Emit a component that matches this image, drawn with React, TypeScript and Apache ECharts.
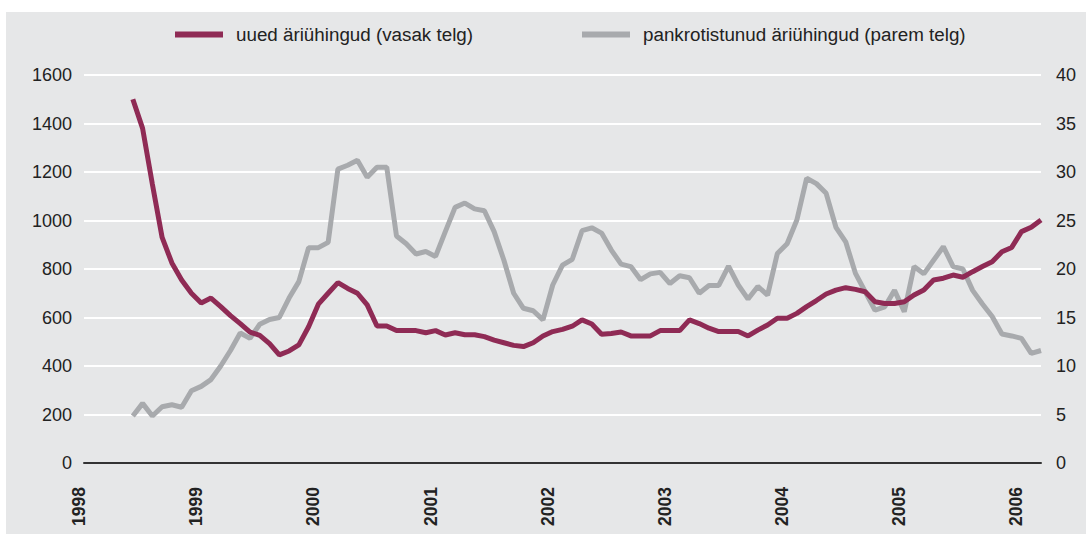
import React, { useEffect, useRef } from "react";
import * as echarts from "echarts";

// x categories: monthly, Jan 1998 .. Mar 2006
const yearLabels = ["1998", "1999", "2000", "2001", "2002", "2003", "2004", "2005", "2006"];
const lastYearMonths = 3;
const monthCategories: string[] = [];
yearLabels.forEach((y, i) => {
  const n = i === yearLabels.length - 1 ? lastYearMonths : 12;
  for (let m = 1; m <= n; m++) monthCategories.push(`${y}-${m < 10 ? "0" + m : m}`);
});

const seriesStart = "1998-06";

const seriesNames = ["uued äriühingud (vasak telg)", "pankrotistunud äriühingud (parem telg)"];

// new companies (left axis), from Jun 1998
const newCompanies = [
  1500, 1380, 1150, 930, 825, 755, 700, 660, 680, 645, 608, 575, 540, 526, 492, 446, 462, 487, 562, 655,
  700, 744, 720, 700, 652, 565, 565, 546, 546, 546, 537, 546, 528, 537, 529, 529, 521, 507, 496, 485,
  480, 496, 524, 542, 551, 564, 590, 573, 531, 534, 540, 524, 524, 524, 546, 546, 546, 590, 575, 556,
  542, 542, 542, 524, 548, 569, 597, 597, 617, 645, 670, 697, 713, 723, 716, 706, 665, 658, 658, 665,
  693, 713, 755, 762, 775, 766, 789, 810, 830, 871, 889, 954, 972, 1002,
];

// bankrupt companies (right axis), from Jun 1998
const bankruptCompanies = [
  4.85, 6.15, 4.85, 5.8, 6.0, 5.75, 7.45, 7.9, 8.6, 10.0, 11.6, 13.4, 12.85, 14.3, 14.8, 15.0, 17.0, 18.7, 22.2, 22.2,
  22.75, 30.3, 30.7, 31.2, 29.45, 30.5, 30.5, 23.4, 22.6, 21.55, 21.8, 21.3, 23.85, 26.35, 26.8, 26.2, 26.0, 23.85, 20.9, 17.5,
  15.95, 15.7, 14.75, 18.35, 20.4, 21.0, 23.95, 24.25, 23.7, 21.95, 20.5, 20.25, 18.9, 19.5, 19.65, 18.5, 19.3, 19.1, 17.5, 18.3,
  18.3, 20.3, 18.35, 16.9, 18.2, 17.3, 21.6, 22.6, 25.05, 29.35, 28.8, 27.8, 24.3, 22.8, 19.55, 17.65, 15.75, 16.1, 17.8, 15.6,
  20.25, 19.5, 20.9, 22.3, 20.25, 20.0, 17.8, 16.4, 15.1, 13.3, 13.1, 12.85, 11.3, 11.6,
];

const leftAxis = { min: 0, max: 1600, interval: 200 };
const rightAxis = { min: 0, max: 40, interval: 5 };

function pad(values: number[]): (number | null)[] {
  const offset = monthCategories.indexOf(seriesStart);
  const out: (number | null)[] = monthCategories.map(() => null);
  values.forEach((v, i) => {
    if (offset + i < out.length) out[offset + i] = v;
  });
  return out;
}

const MAROON = "#8f2b55";
const GREY = "#a8aaad";
const TEXT = "#222222";
const FONT = "'Liberation Sans', Arial, sans-serif";

export default function App() {
  const ref = useRef<HTMLDivElement>(null);

  useEffect(() => {
    if (!ref.current) return;
    const chart = echarts.init(ref.current, undefined, { renderer: "svg" });
    chart.setOption({
      animation: false,
      textStyle: { fontFamily: FONT },
      legend: {
        left: 164,
        top: 8,
        itemWidth: 48,
        itemHeight: 6,
        itemGap: 109,
        icon: "rect",
        textStyle: { fontSize: 18.8, color: TEXT, fontFamily: FONT, padding: [0, 0, 0, 8] },
        data: seriesNames,
      },
      grid: { left: 78, right: 45, top: 63, bottom: 71, containLabel: false },
      xAxis: {
        type: "category",
        data: monthCategories,
        boundaryGap: false,
        axisLine: { show: true, lineStyle: { color: "#333333", width: 2 } },
        axisTick: { show: false },
        splitLine: { show: false },
        axisLabel: {
          interval: (_i: number, v: string) => v.endsWith("-01"),
          formatter: (v: string) => v.slice(0, 4),
          rotate: 90,
          margin: 24,
          fontSize: 17.5,
          fontWeight: "bold",
          color: TEXT,
          fontFamily: FONT,
          verticalAlign: "bottom",
          lineHeight: 10,
        },
      },
      yAxis: [
        {
          type: "value",
          min: leftAxis.min,
          max: leftAxis.max,
          interval: leftAxis.interval,
          axisLine: { show: false },
          axisTick: { show: false },
          splitLine: { show: true, lineStyle: { color: "#ffffff", width: 2 } },
          axisLabel: { fontSize: 18, color: TEXT, margin: 12, fontFamily: FONT, formatter: (v: number) => String(v) },
        },
        {
          type: "value",
          min: rightAxis.min,
          max: rightAxis.max,
          interval: rightAxis.interval,
          position: "right",
          axisLine: { show: false },
          axisTick: { show: false },
          splitLine: { show: false },
          axisLabel: { fontSize: 18, color: TEXT, margin: 15, fontFamily: FONT, formatter: (v: number) => String(v) },
        },
      ],
      series: [
        {
          name: seriesNames[0],
          type: "line",
          yAxisIndex: 0,
          data: pad(newCompanies),
          symbol: "none",
          connectNulls: false,
          lineStyle: { color: MAROON, width: 5 },
          itemStyle: { color: MAROON },
          z: 4,
        },
        {
          name: seriesNames[1],
          type: "line",
          yAxisIndex: 1,
          data: pad(bankruptCompanies),
          symbol: "none",
          connectNulls: false,
          lineStyle: { color: GREY, width: 5 },
          itemStyle: { color: GREY },
          z: 3,
        },
      ],
    });
    return () => chart.dispose();
  }, []);

  return (
    <div style={{ position: "absolute", left: 0, top: 0, width: 1086, height: 534, background: "#ffffff" }}>
      <div style={{ position: "absolute", left: 6, top: 12, width: 1080, height: 522, background: "#e6e7e8" }}>
        <div ref={ref} style={{ width: 1080, height: 522 }} />
      </div>
    </div>
  );
}
